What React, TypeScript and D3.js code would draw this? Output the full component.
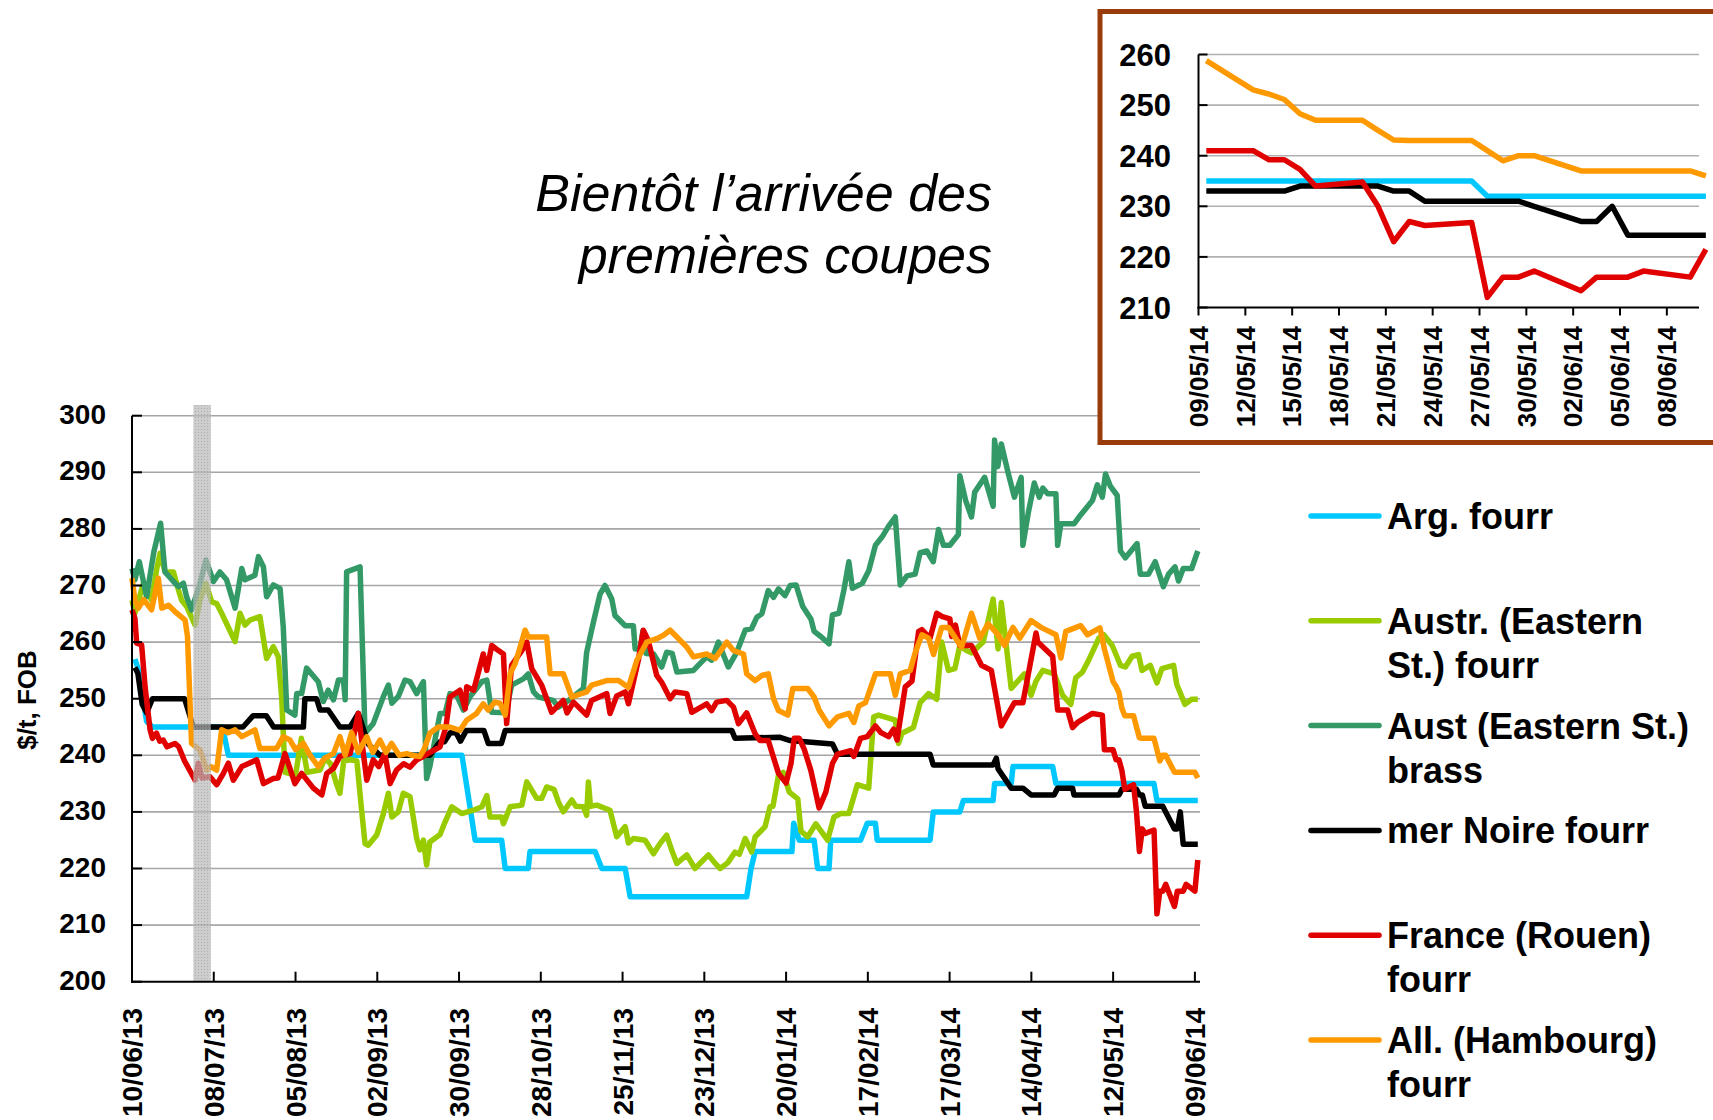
import React from "react";
import * as d3 from "d3";

// ---------------- DATA ----------------
const MAIN_START = "2013-06-10";
const MAIN_END_DAYS = 365.75;
const MAIN_X_TICKS = ["10/06/13", "08/07/13", "05/08/13", "02/09/13", "30/09/13", "28/10/13", "25/11/13", "23/12/13", "20/01/14", "17/02/14", "17/03/14", "14/04/14", "12/05/14", "09/06/14"];
const MAIN_Y_TICKS = [200, 210, 220, 230, 240, 250, 260, 270, 280, 290, 300];
const Y_TITLE = "$/t, FOB";
const SUBTITLE = ["Bientôt l’arrivée des", "premières coupes"];
const HARVEST_BAR = ["2013-07-01", "2013-07-07"];

const LEGEND_LINES = [
  ["Arg. fourr"],
  ["Austr. (Eastern", "St.) fourr"],
  ["Aust (Eastern St.)", "brass"],
  ["mer Noire fourr"],
  ["France (Rouen)", "fourr"],
  ["All. (Hambourg)", "fourr"],
];
const COLORS = ["#00c8ff", "#99cc00", "#339966", "#000000", "#e00000", "#ff9900"];

// [day offset from 10/06/13, $/t]
const ARG_MAIN: [number, number][] = [
  [1, 257], [2, 255.5], [5, 246], [7, 245], [31, 245], [33, 240], [113, 240], [117.5, 225], [126.6, 225],
  [127.8, 220], [135.7, 220], [136.3, 223], [158.6, 223], [160.9, 220], [168.9, 220], [170.6, 215],
  [210.5, 215], [212, 220], [213.4, 223], [226, 223], [226.6, 228], [228.5, 225], [233.6, 225],
  [234.8, 220], [238.7, 220], [239.3, 225], [249.5, 225], [251.8, 228], [254.6, 228], [255.2, 225],
  [273.3, 225], [274.4, 230], [283.5, 230], [284.7, 232], [294.9, 232], [295.4, 235], [301.1, 235],
  [301.7, 238], [315.3, 238], [316.4, 235],
];
const AUSTR_FOURR: [number, number][] = [
  [0, 267.4], [1, 265.1], [3.9, 270.4], [6.7, 267.4], [8.5, 273], [9.6, 275.7], [11.3, 272.4], [14.2, 272.4],
  [15.9, 269.2], [17, 267.4], [18.7, 266.3], [21.6, 263], [23.3, 267.4], [25.3, 270.4], [27.3, 267.1],
  [29, 266.8], [30.7, 265.1], [35.3, 260.1], [37, 265.1], [38.7, 263], [40.4, 263.9], [43.8, 264.5],
  [46.1, 257.1], [48.4, 259.2], [50.1, 257.4], [51.3, 249.8], [52.4, 237], [56, 236.5], [58, 243], [60, 237],
  [64.4, 237.4], [66.1, 239.5], [68, 238.5], [70, 235], [71.2, 233.3], [72.5, 239], [74.7, 239.2], [77, 239],
  [78.5, 231], [79.8, 224.4], [80.9, 224.1], [83.8, 225.9], [86.1, 229.7], [87.8, 233.3], [89, 229.1],
  [91.2, 230], [92.9, 233.3], [95.2, 232.7], [97.5, 225.3], [98.6, 223.3], [99.8, 225], [100.9, 220.6],
  [102, 224.7], [105.5, 226], [107.2, 228.2], [109.5, 230.9], [112.9, 229.7], [116.9, 230.3], [119.8, 230.9],
  [121.5, 232.9], [122.6, 229.1], [126.6, 229.1], [127.2, 227.9], [129.5, 230.9], [133.5, 231.2],
  [135.2, 235.3], [138.6, 232.4], [140.3, 232.4], [142, 234.4], [144.5, 234], [146, 231.8], [147.7, 230],
  [150.6, 232.1], [152, 231], [154.6, 230.9], [155.7, 229.4], [156.3, 235.3], [157, 231], [159.2, 231.2],
  [163.7, 230.3], [166, 225.6], [168.9, 227.4], [170, 224.5], [171.7, 225.3], [175.7, 225], [178.6, 222.6],
  [180.8, 224.4], [183.1, 225.9], [185, 223], [186.6, 220.9], [190, 222.4], [192.8, 220], [197.4, 222.4],
  [199.7, 220.9], [201.4, 220], [204, 221], [206.5, 222.9], [208, 222.5], [210, 225.3], [212.2, 222.9],
  [213.4, 225.6], [216.8, 227.4], [218.5, 230.9], [219.5, 231], [221.4, 236.5], [223, 237], [225.1, 233.5],
  [228, 232.3], [229.1, 226.6], [231.4, 225.6], [234.2, 227.9], [238.2, 225], [240.4, 229.1], [242.7, 229.7],
  [245.5, 229.7], [248.4, 234.8], [252.3, 234.2], [254, 246.8], [255.7, 247.1], [261.4, 246.2],
  [262.5, 242.1], [263.7, 243.9], [267.6, 244.9], [269.9, 249.3], [272.8, 250.9], [275.6, 249.9],
  [277.3, 260], [279.6, 255], [281.8, 255.3], [283.5, 259.4], [285.8, 258.5], [287.5, 258.1], [291.5, 260],
  [294.9, 267.6], [296.6, 258.8], [297.7, 267], [301.1, 251.8], [305.6, 254.4], [307.9, 250.6],
  [309.6, 253.1], [311.9, 255], [315.8, 254.4], [318.7, 250.6], [321.5, 249], [323.2, 253.7], [325.5, 254.7],
  [327.7, 256.9], [331.1, 260.7], [332.8, 261.3], [335.7, 259.4], [338.5, 255.9], [340.2, 255.6],
  [342.5, 257.5], [344.7, 257.8], [345.9, 255], [348.7, 255.9], [351, 252.8], [352.7, 255.3], [356.7, 255.9],
  [357.8, 252.5], [360.6, 249], [362.9, 249.9], [365, 249.9],
];
const AUST_BRASS: [number, number][] = [
  [0, 273], [1, 271], [2.5, 274.2], [5, 268], [7.5, 276], [9.8, 281], [11.3, 272.4], [14.2, 270.7],
  [15.9, 269.8], [17.6, 270.4], [18.7, 268], [20.4, 265.7], [23.3, 270.4], [25.3, 274.5], [27.9, 270.7],
  [30.1, 272.4], [32.4, 271], [35.3, 266], [37.6, 273], [38.7, 271], [42.1, 271.8], [43.3, 275.1], [45, 273.3],
  [46.1, 268], [48.4, 270.1], [50.7, 269.5], [51.8, 262.7], [53, 248], [55.8, 247.1], [56.4, 250.9],
  [58.1, 250.9], [59.8, 255.4], [63.8, 253], [65.5, 249.5], [67.2, 251.5], [69, 249.8], [70.7, 253.3],
  [72.4, 253.3], [73, 249.8], [73.5, 272.4], [78.1, 273.3], [79.8, 243.9], [82.6, 245.6], [86.1, 250.4],
  [87.8, 252.4], [89, 249.2], [91.2, 250.4], [93.5, 253.3], [95.2, 253], [97.5, 250.9], [99.8, 253],
  [100.9, 235.9], [102, 238], [105.5, 247.4], [107.2, 247.4], [108.9, 250.9], [111.2, 250.6], [113.5, 248],
  [115.8, 250.4], [119.8, 253], [121.5, 253.3], [123.2, 247.6], [128, 247.5], [130, 252.4], [134, 253.5],
  [135.7, 254.4], [137.5, 251.2], [139.2, 250.3], [144.3, 249.7], [146, 248.5], [149.5, 249.7],
  [154.6, 251.8], [155.7, 258.2], [158, 263.5], [160.3, 268.5], [162, 270], [164.3, 267.6], [165.4, 264.7],
  [168.9, 262.9], [171.7, 262.9], [172.3, 258.8], [174, 258.8], [175, 262], [176, 258], [178.6, 257.9],
  [181.4, 255.6], [183.1, 258.2], [185, 258], [186.6, 254.7], [192.3, 255], [194.5, 256.2], [196.8, 257.4],
  [198.5, 256.8], [200.8, 260], [204.2, 255.6], [207.1, 258.2], [210, 262.1], [212.2, 262.4], [214, 264.4],
  [215.7, 265], [217.9, 269.1], [219.7, 267.9], [221.4, 269.4], [223.6, 268.2], [225.4, 270], [227.4, 270.1],
  [229.7, 266.3], [232.5, 264.1], [233.6, 261.9], [235.9, 261], [238.7, 259.7], [239.9, 264.8],
  [242.1, 265.1], [243.8, 269.2], [245.5, 274.2], [246.7, 269.5], [250.1, 270.4], [252.3, 272.6],
  [254.6, 277.1], [256.9, 278.6], [259.1, 280.5], [261.4, 282.1], [263.1, 270.1], [265.4, 271.7],
  [268.2, 272], [269.9, 275.8], [272.2, 276.1], [274.4, 274.2], [276.2, 279.9], [277.9, 277.1],
  [280.1, 277.1], [283, 279], [283.5, 289.4], [285.5, 285], [287.5, 282.1], [288.6, 286.5], [292, 289.1],
  [294.9, 284], [295.4, 295.7], [296.5, 291], [297.7, 295], [300, 290], [302.2, 285.6], [304.5, 289.1],
  [305.1, 277.1], [307, 283], [309, 288.1], [310.7, 285.6], [311.9, 287.2], [313.6, 286.2], [316.4, 286.2],
  [317, 277.1], [318.1, 280.9], [322.6, 280.9], [324.3, 282.1], [328.9, 285], [330.6, 287.8],
  [332.3, 285.6], [333.4, 289.7], [335.1, 287.5], [337.4, 285.9], [338.5, 276.1], [340.2, 274.9],
  [344.2, 277.4], [345.3, 272], [348.1, 272], [350.4, 274.2], [353.2, 269.8], [355, 272], [357.2, 273.3],
  [358.4, 270.8], [360, 273], [362.9, 273], [365, 276.1],
];
const NOIRE_MAIN: [number, number][] = [
  [1, 255.5], [2, 254.5], [3.5, 249], [5, 247.5], [7, 250], [18, 250], [21, 245], [38, 245], [41.5, 247],
  [46, 247], [48.5, 245], [58.7, 245], [59.2, 250], [63.2, 250], [64.4, 248], [67.2, 248], [71.2, 245],
  [74.7, 245], [77.5, 247.4], [80.9, 242], [84.9, 240], [102, 240], [105.5, 242.4], [107, 242.4], [109, 244],
  [111, 244], [112.5, 242.5], [114.5, 244.4], [120.5, 244.4], [122, 242.1], [126.5, 242.1], [127.8, 244.4],
  [205.4, 244.4], [206.5, 243], [221.7, 243.2], [225.4, 242.6], [239.9, 242], [241.6, 240.2], [273.3, 240.2],
  [274.4, 238.3], [294.9, 238.3], [296, 239.5], [296.6, 237.6], [301.1, 234.2], [305.1, 234.2], [307.9, 233],
  [315.8, 233], [317, 234.2], [322.1, 234.2], [322.6, 233],
];
const FRANCE_MAIN: [number, number][] = [
  [0, 265.7], [1, 264.2], [1.6, 259.8], [3.3, 259.5], [4.5, 252], [6.2, 244.5], [7, 243], [8.4, 243.9],
  [9.5, 242.5], [10.7, 242.7], [12, 241.5], [14.7, 242.1], [16, 241.5], [18, 239], [21.6, 235.6],
  [22.7, 238.6], [24, 236], [26.7, 236.2], [29, 234.8], [31.3, 236.8], [33, 238.6], [34.7, 235.6], [37.6, 238],
  [42.7, 239.2], [45, 235], [48.4, 235.9], [50, 236], [52.4, 240.3], [55.8, 235], [58.1, 236.8], [62.1, 234.2],
  [65, 233], [66.7, 236.8], [69, 237.7], [71.2, 239.8], [74.7, 240.3], [77.5, 247.4], [80.4, 235.6],
  [82.6, 239.2], [84.5, 238], [86.6, 240.3], [88.4, 235], [90.6, 237.4], [93, 238.5], [95.2, 237.9],
  [97.5, 239.2], [99.8, 239.8], [102, 240.5], [105.5, 241.5], [107.5, 245], [108.9, 250.3], [112.3, 251.5],
  [114.1, 248.2], [114.6, 252.1], [117, 251.5], [120.3, 257.9], [121.5, 255], [123.2, 259.4], [125.5, 258.5],
  [127.2, 257.9], [128.3, 245.6], [130, 255.9], [133.5, 258.5], [135.2, 260], [136.9, 255.3], [140.3, 252.4],
  [143.7, 247.6], [147.7, 249.7], [149, 247.5], [151.2, 249.4], [155.7, 247.1], [157.4, 249.7],
  [162.6, 250.9], [163.7, 247.4], [166, 250.5], [168.9, 251.2], [170, 249.1], [173.4, 256.8], [175.1, 262.1],
  [176.8, 260.3], [179.7, 254.1], [181.4, 252.9], [184.3, 250], [186, 251.2], [190, 250.9], [191.7, 247.6],
  [196.8, 249.1], [198.5, 247.9], [200.2, 249.4], [203.7, 249.7], [206, 248.5], [207.7, 245.6],
  [210.5, 247.5], [213.4, 243.8], [215.1, 242.6], [217.9, 242.6], [221.4, 236.8], [224, 235.1],
  [225.7, 238.6], [226.8, 243], [228.5, 243], [230.2, 241.1], [232.5, 237.3], [235.3, 230.7], [237.6, 233.5],
  [239.9, 238.6], [241.6, 240.2], [246.1, 240.8], [247.2, 239.8], [249.5, 243], [251.8, 243.3],
  [254.6, 245.2], [256.5, 244], [259.1, 243.3], [260.8, 244.6], [262, 242.7], [264.8, 252.1], [267.1, 253.1],
  [269.4, 261.9], [270.5, 262.2], [273.3, 260.7], [275.6, 265.1], [277.5, 264.5], [280.1, 264.1],
  [280.7, 261], [282, 263], [283.5, 259.4], [287.5, 259.4], [290.9, 255.9], [294.3, 255], [297.7, 245.2],
  [302.2, 249.3], [305.1, 249.3], [309.6, 261.6], [310.2, 260], [315.3, 257.5], [317, 248], [320.4, 248],
  [322.1, 244.9], [323.8, 245.8], [328.9, 247.4], [332.3, 247.1],
];
const HAMBOURG_MAIN: [number, number][] = [
  [0, 271.3], [1, 267.4], [2.2, 266], [4, 267.5], [6.7, 265.7], [9, 271.3], [10.2, 266], [12.5, 266.5],
  [14.7, 265.4], [18.2, 263.9], [19, 261], [20.4, 242.1], [23.3, 240.9], [25.6, 237.4], [27, 238],
  [29, 237.4], [30.7, 244.5], [33, 244], [35.3, 244.5], [37.6, 243.3], [42.1, 244.5], [43.8, 241.2],
  [49.5, 241.2], [51.8, 243.3], [54.1, 242.7], [56, 241], [58.7, 242.1], [61, 240], [63.8, 238], [66, 239.5],
  [69, 240.3], [71.2, 243.3], [73, 240], [75.2, 244], [77.5, 240.5], [80.4, 243.3], [82.5, 240.5],
  [84.9, 242.7], [87, 240.5], [88.9, 242.1], [91.5, 240], [94.1, 240.3], [96, 240], [98.6, 239.8], [100, 241],
  [102, 243.9], [104.9, 245], [108.9, 245], [112.3, 244.4], [114.6, 246.2], [118, 247.4], [120.3, 249.1],
  [122, 248], [124.3, 249.4], [126, 249.2], [127.8, 247.1], [129.5, 254.4], [131.2, 256.2], [132.9, 259.1],
  [134.6, 262.1], [135.7, 260.9], [142, 260.9], [143.2, 254.4], [147.7, 254.4], [150.6, 250.3],
  [155.7, 251.2], [157.4, 252.4], [162.6, 253.2], [166.6, 253.2], [170, 252], [172.9, 256.8], [176.3, 260],
  [179.7, 260.6], [182, 261.2], [184.3, 262.1], [186.6, 260.9], [190, 259.1], [192.3, 257.4], [196.8, 257.9],
  [199.7, 257.1], [203.7, 260], [206, 258.5], [209.4, 257.9], [210.5, 254.4], [213.4, 253.2], [215.7, 254.1],
  [217.9, 254.4], [219.7, 250], [221.4, 247.9], [224.6, 247.1], [226.3, 251.8], [231.4, 251.8],
  [233.6, 250.3], [235.3, 248], [238.7, 245.2], [241.6, 246.8], [245.5, 247.4], [247.2, 245.8],
  [248.9, 248.7], [251.2, 249.3], [254.6, 254.4], [259.7, 254.4], [261.4, 250.6], [263.1, 254.4],
  [266.5, 255], [268.2, 258.1], [270.5, 261.3], [272.8, 260.7], [274.5, 257.8], [277.3, 262.6],
  [279.6, 262.6], [284.1, 259.1], [287.5, 265.1], [290.3, 260.7], [293.2, 263.2], [296.6, 261.3],
  [298.8, 259.4], [301.7, 262.6], [304, 260.7], [307.9, 263.8], [311.3, 262.6], [316.4, 261.3],
  [318.1, 257.2], [319.8, 261.9], [324.9, 262.9], [327.2, 261.3], [331.5, 262.5],
];

// Inset: business days from 09/05/14
const INSET_START_DAY = 333; // 09/05/14 counted from 10/06/13
const INSET_X_TICKS = ["09/05/14", "12/05/14", "15/05/14", "18/05/14", "21/05/14", "24/05/14", "27/05/14", "30/05/14", "02/06/14", "05/06/14", "08/06/14"];
const INSET_Y_TICKS = [210, 220, 230, 240, 250, 260];
const INSET_DAYS = [0, 3, 4, 5, 6, 7, 10, 11, 12, 13, 14, 17, 18, 19, 20, 21, 24, 25, 26, 27, 28, 31, 32];
const INSET_ARG = [235, 235, 235, 235, 235, 235, 235, 235, 235, 235, 235, 235, 232, 232, 232, 232, 232, 232, 232, 232, 232, 232, 232];
const INSET_NOIRE = [233, 233, 233, 233, 234, 234, 234, 234, 233, 233, 231, 231, 231, 231, 231, 230, 227, 227, 230, 224.3, 224.3, 224.3, 224.3];
const INSET_FRANCE = [241, 241, 239.2, 239.2, 237.3, 234, 234.8, 230, 223, 227, 226.2, 226.8, 212, 216, 216, 217.2, 213.3, 216, 216, 216, 217.2, 216, 221.5];
const INSET_HAMBOURG = [258.8, 253, 252.2, 251.1, 248.3, 247, 247, 245, 243.1, 243, 243, 243, 241, 239, 240, 240, 237, 237, 237, 237, 237, 237, 236];

// ---------------- CHART ----------------
const FONT = "Arial, 'Liberation Sans', Helvetica, sans-serif";
type P = [number, number];

const insetPairs = (vals: number[]): P[] => INSET_DAYS.map((d, i) => [d, vals[i]]);
const withInset = (main: P[], vals: number[]): P[] => [...main, ...INSET_DAYS.map((d, i) => [INSET_START_DAY + d, vals[i]] as P)];

export default function App() {
  const parseIso = d3.timeParse("%Y-%m-%d");
  const parseTick = d3.timeParse("%d/%m/%y");
  const start = parseIso(MAIN_START) as Date;
  const dayDate = (d: number) => new Date(start.getTime() + d * 86400000);

  // main plot scales
  const x = d3.scaleTime().domain([start, dayDate(MAIN_END_DAYS)]).range([132, 1200]);
  const y = d3.scaleLinear().domain([200, 300]).range([981.7, 415.7]);
  const mainLine = d3.line<P>().x((d) => x(dayDate(d[0]))).y((d) => y(d[1]));

  const mainSeries: P[][] = [
    withInset(ARG_MAIN, INSET_ARG),
    AUSTR_FOURR,
    AUST_BRASS,
    withInset(NOIRE_MAIN, INSET_NOIRE),
    withInset(FRANCE_MAIN, INSET_FRANCE),
    withInset(HAMBOURG_MAIN, INSET_HAMBOURG),
  ];

  // inset scales
  const ix = d3.scaleLinear().domain([0, 32.06]).range([1198.5, 1699]);
  const iy = d3.scaleLinear().domain([210, 260]).range([307.5, 54.5]);
  const insetLine = d3.line<P>().x((d) => ix(d[0] + 0.5)).y((d) => iy(d[1]));
  const insetSeries: { vals: number[]; color: string }[] = [
    { vals: INSET_ARG, color: COLORS[0] },
    { vals: INSET_NOIRE, color: COLORS[3] },
    { vals: INSET_FRANCE, color: COLORS[4] },
    { vals: INSET_HAMBOURG, color: COLORS[5] },
  ];
  const insetStart = parseTick(INSET_X_TICKS[0]) as Date;

  const barX0 = x(parseIso(HARVEST_BAR[0]) as Date);
  const barX1 = x(parseIso(HARVEST_BAR[1]) as Date);

  return (
    <svg width={1713} height={1120} style={{ position: "absolute", left: 0, top: 0, background: "#fff" }} fontFamily={FONT}>
      <defs>
        <pattern id="dots" width="3" height="3" patternUnits="userSpaceOnUse">
          <rect width="3" height="3" fill="#b9b9b9" />
          <rect width="1" height="1" fill="#8f8f8f" />
        </pattern>
      </defs>
      <rect x={0} y={0} width={1713} height={1120} fill="#fff" />

      {/* subtitle */}
      <text x={992} y={211} fontSize={52} fontStyle="italic" textAnchor="end" fill="#000">{SUBTITLE[0]}</text>
      <text x={992} y={273} fontSize={52} fontStyle="italic" textAnchor="end" fill="#000">{SUBTITLE[1]}</text>

      {/* main grid */}
      {MAIN_Y_TICKS.filter((v) => v > 200).map((v) => (
        <line key={"g" + v} x1={132} x2={1200} y1={y(v)} y2={y(v)} stroke="#a6a6a6" strokeWidth={1.6} />
      ))}

      {/* series */}
      {mainSeries.map((s, i) => (
        <path key={"s" + i} d={mainLine(s) as string} fill="none" stroke={COLORS[i]} strokeWidth={5.5} strokeLinejoin="round" />
      ))}

      {/* harvest bar */}
      <rect x={barX0} y={405} width={barX1 - barX0} height={981.7 - 405} fill="url(#dots)" opacity={0.72} />

      {/* axes */}
      <line x1={132} x2={132} y1={415.7} y2={982.7} stroke="#000" strokeWidth={2} />
      <line x1={131} x2={1200} y1={981.7} y2={981.7} stroke="#000" strokeWidth={2} />
      {MAIN_Y_TICKS.map((v) => (
        <g key={"yt" + v}>
          <line x1={132} x2={142} y1={y(v)} y2={y(v)} stroke="#000" strokeWidth={2} />
          <text x={106} y={y(v) + 8} fontSize={28} fontWeight="bold" textAnchor="end" fill="#000">{v}</text>
        </g>
      ))}
      {MAIN_X_TICKS.map((t) => {
        const tx = x(parseTick(t) as Date);
        return (
          <g key={"xt" + t}>
            <line x1={tx} x2={tx} y1={981.7} y2={971.7} stroke="#000" strokeWidth={2} />
            <text transform={`translate(${tx + 10},${1008}) rotate(-90)`} fontSize={28} fontWeight="bold" textAnchor="end" fill="#000">{t}</text>
          </g>
        );
      })}
      <text transform={`translate(${36},${700}) rotate(-90)`} fontSize={26} fontWeight="bold" textAnchor="middle" fill="#000">{Y_TITLE}</text>

      {/* legend */}
      {LEGEND_LINES.map((lines, i) => {
        const ly = 516 + i * 104.8;
        return (
          <g key={"lg" + i}>
            <line x1={1311} x2={1379} y1={ly} y2={ly} stroke={COLORS[i]} strokeWidth={5.5} strokeLinecap="round" />
            {lines.map((l, j) => (
              <text key={j} x={1387} y={ly + 13 + j * 44} fontSize={36} fontWeight="bold" fill="#000">{l}</text>
            ))}
          </g>
        );
      })}

      {/* inset */}
      <rect x={1100} y={11.5} width={700} height={431} fill="#fff" stroke="#9a3b0c" strokeWidth={5} />
      {INSET_Y_TICKS.filter((v) => v > 210).map((v) => (
        <line key={"ig" + v} x1={1198.5} x2={1699} y1={iy(v)} y2={iy(v)} stroke="#b0b0b0" strokeWidth={1.6} />
      ))}
      {insetSeries.map((s, i) => (
        <path key={"is" + i} d={insetLine(insetPairs(s.vals)) as string} fill="none" stroke={s.color} strokeWidth={5.5} strokeLinejoin="round" />
      ))}
      <line x1={1198.5} x2={1198.5} y1={54.5} y2={308.5} stroke="#000" strokeWidth={2} />
      <line x1={1197.5} x2={1699} y1={307.5} y2={307.5} stroke="#000" strokeWidth={2} />
      {INSET_Y_TICKS.map((v) => (
        <g key={"iyt" + v}>
          <line x1={1198.5} x2={1207.5} y1={iy(v)} y2={iy(v)} stroke="#000" strokeWidth={2} />
          <text x={1171} y={iy(v) + 11} fontSize={31} fontWeight="bold" textAnchor="end" fill="#000">{v}</text>
        </g>
      ))}
      {INSET_X_TICKS.map((t) => {
        const d = d3.timeDay.count(insetStart, parseTick(t) as Date);
        const tx = ix(d);
        return (
          <g key={"ixt" + t}>
            <line x1={tx} x2={tx} y1={307.5} y2={315.5} stroke="#000" strokeWidth={2} />
            <text transform={`translate(${tx + 9.3},${326}) rotate(-90)`} fontSize={26} fontWeight="bold" textAnchor="end" fill="#000">{t}</text>
          </g>
        );
      })}
    </svg>
  );
}
